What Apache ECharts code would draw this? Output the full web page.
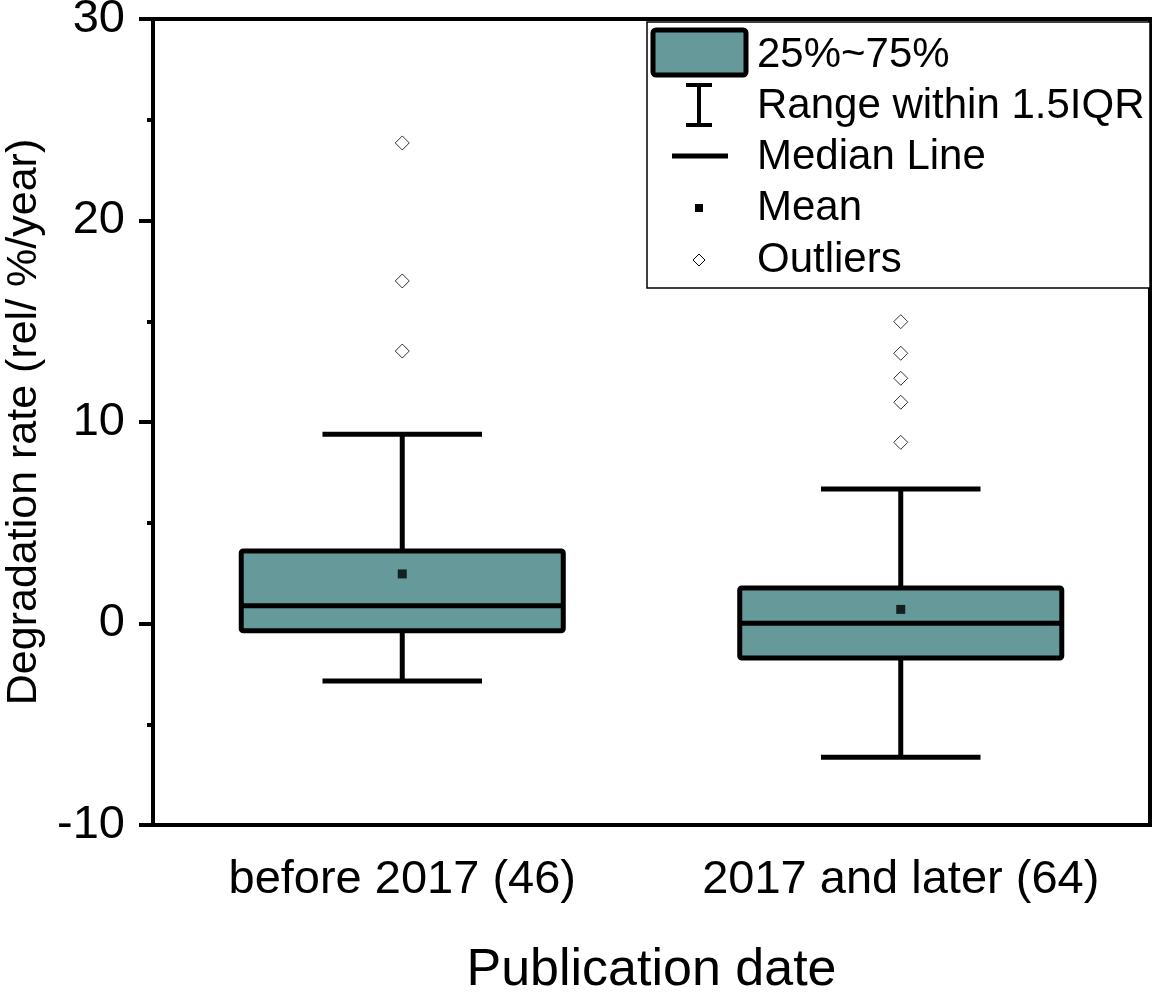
<!DOCTYPE html>
<html>
<head>
<meta charset="utf-8">
<script src="https://cdn.jsdelivr.net/npm/echarts@6/dist/echarts.min.js"></script>
<style>
html,body{margin:0;padding:0;background:#fff;}
#box{width:1154px;height:996px;}
</style>
</head>
<body>
<div id="box"></div>
<script>
var categories = ['before 2017 (46)', '2017 and later (64)'];
var whiskerLow = [-2.85, -6.64];
var q1 = [-0.36, -1.71];
var median = [0.88, 0.01];
var q3 = [3.60, 1.76];
var whiskerHigh = [9.39, 6.67];
var means = [2.46, 0.70];
var outlierCat = [0, 0, 0, 1, 1, 1, 1, 1];
var outlierVal = [23.85, 17.0, 13.52, 14.98, 13.41, 12.17, 10.98, 8.99];
var yTicks = [-10, 0, 10, 20, 30];

var FONT = '"Liberation Sans", Arial, sans-serif';
var TEAL = '#669999';

var boxData = categories.map(function(c, i){
    return [i, whiskerLow[i], q1[i], median[i], q3[i], whiskerHigh[i]];
});
var meanData = categories.map(function(c, i){ return [i, means[i]]; });
var outlierData = outlierVal.map(function(v, i){ return [outlierCat[i], v]; });

var myChart = echarts.init(document.getElementById('box'));

var option = {
    animation: false,
    grid: {
        left: 153, right: 4, top: 19, bottom: 171,
        outerBoundsMode: 'none',
        containLabel: false,
        show: true, borderColor: '#000', borderWidth: 4, backgroundColor: 'transparent'
    },
    xAxis: {
        type: 'category',
        data: categories,
        name: 'Publication date',
        nameLocation: 'middle',
        nameGap: 120,
        nameTextStyle: {fontFamily: FONT, fontSize: 52, color: '#000'},
        axisLine: {onZero: false, lineStyle: {color: '#000', width: 4}},
        axisTick: {alignWithLabel: true, length: 14, lineStyle: {color: '#000', width: 4}},
        axisLabel: {interval: 0, hideOverlap: false, fontFamily: FONT, fontSize: 47, color: '#000', margin: 32}
    },
    yAxis: {
        type: 'value',
        min: yTicks[0], max: yTicks[yTicks.length - 1], interval: 10,
        name: 'Degradation rate (rel/ %/year)',
        nameLocation: 'middle',
        nameGap: 107,
        nameTextStyle: {fontFamily: FONT, fontSize: 43, color: '#000'},
        axisLine: {show: true, lineStyle: {color: '#000', width: 4}},
        axisTick: {show: true, length: 14, lineStyle: {color: '#000', width: 4}},
        minorTick: {show: true, splitNumber: 2, length: 6, lineStyle: {color: '#000', width: 4}},
        splitLine: {show: false},
        axisLabel: {fontFamily: FONT, fontSize: 47, color: '#000', margin: 28}
    },
    series: [
        {
            type: 'custom',
            data: boxData,
            encode: {x: 0, y: [1, 2, 3, 4, 5]},
            renderItem: function(params, api){
                var x = api.value(0);
                var lo = api.coord([x, api.value(1)]);
                var b1 = api.coord([x, api.value(2)]);
                var md = api.coord([x, api.value(3)]);
                var b3 = api.coord([x, api.value(4)]);
                var hi = api.coord([x, api.value(5)]);
                var band = api.size([1, 0])[0];
                var hw = band * 0.323;
                var cw = band * 0.16;
                var cx = lo[0];
                var st = {stroke: '#000', lineWidth: 5};
                return {
                    type: 'group',
                    children: [
                        {type: 'line', shape: {x1: cx, y1: hi[1], x2: cx, y2: b3[1]}, style: st},
                        {type: 'line', shape: {x1: cx, y1: b1[1], x2: cx, y2: lo[1]}, style: st},
                        {type: 'line', shape: {x1: cx - cw, y1: hi[1], x2: cx + cw, y2: hi[1]}, style: st},
                        {type: 'line', shape: {x1: cx - cw, y1: lo[1], x2: cx + cw, y2: lo[1]}, style: st},
                        {type: 'rect', shape: {x: cx - hw, y: b3[1], width: hw * 2, height: b1[1] - b3[1], r: 2},
                            style: {fill: TEAL, stroke: '#000', lineWidth: 5}},
                        {type: 'line', shape: {x1: cx - hw, y1: md[1], x2: cx + hw, y2: md[1]}, style: st}
                    ]
                };
            },
            z: 2
        },
        {
            type: 'scatter',
            data: meanData,
            symbol: 'rect',
            symbolSize: 9,
            itemStyle: {color: '#000'},
            z: 3
        },
        {
            type: 'scatter',
            data: outlierData,
            symbol: 'diamond',
            symbolSize: 14,
            itemStyle: {color: '#fff', borderColor: '#000', borderWidth: 1},
            z: 3
        }
    ],
    graphic: [
        {type: 'rect', shape: {x: 647, y: 22, width: 503, height: 266},
            style: {fill: '#fff', stroke: '#000', lineWidth: 1.5}, z: 10},
        {type: 'rect', shape: {x: 653, y: 30, width: 93, height: 45, r: 3},
            style: {fill: TEAL, stroke: '#000', lineWidth: 5}, z: 11},
        {type: 'line', shape: {x1: 699, y1: 85, x2: 699, y2: 125}, style: {stroke: '#000', lineWidth: 4}, z: 11},
        {type: 'line', shape: {x1: 686, y1: 85, x2: 712, y2: 85}, style: {stroke: '#000', lineWidth: 4}, z: 11},
        {type: 'line', shape: {x1: 686, y1: 125, x2: 712, y2: 125}, style: {stroke: '#000', lineWidth: 4}, z: 11},
        {type: 'line', shape: {x1: 672, y1: 156, x2: 728, y2: 156}, style: {stroke: '#000', lineWidth: 5}, z: 11},
        {type: 'rect', shape: {x: 695, y: 204, width: 8, height: 8}, style: {fill: '#000'}, z: 11},
        {type: 'polygon', shape: {points: [[699, 254], [705, 260], [699, 266], [693, 260]]},
            style: {fill: '#fff', stroke: '#000', lineWidth: 1}, z: 11},
        {type: 'text', x: 757, y: 55, style: {text: '25%~75%', font: '42px ' + FONT, fill: '#000', verticalAlign: 'middle'}, z: 11},
        {type: 'text', x: 757, y: 106, style: {text: 'Range within 1.5IQR', font: '42px ' + FONT, fill: '#000', verticalAlign: 'middle'}, z: 11},
        {type: 'text', x: 757, y: 157, style: {text: 'Median Line', font: '42px ' + FONT, fill: '#000', verticalAlign: 'middle'}, z: 11},
        {type: 'text', x: 757, y: 208, style: {text: 'Mean', font: '42px ' + FONT, fill: '#000', verticalAlign: 'middle'}, z: 11},
        {type: 'text', x: 757, y: 260, style: {text: 'Outliers', font: '42px ' + FONT, fill: '#000', verticalAlign: 'middle'}, z: 11}
    ]
};

myChart.setOption(option);
</script>
</body>
</html>
